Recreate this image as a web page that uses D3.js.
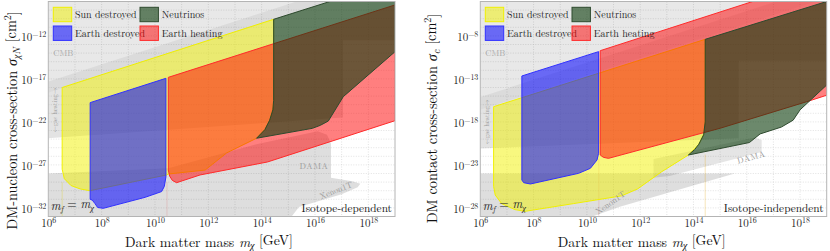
<!DOCTYPE html>
<html><head><meta charset="utf-8">
<script src="https://cdn.jsdelivr.net/npm/d3@7/dist/d3.min.js"></script>
<style>body{margin:0;background:#fff}svg{display:block}</style>
</head><body><svg id="c" width="830" height="251"></svg>
<script>
// ---------- data (log10 of mass in GeV, log10 of cross-section in cm^2) ----------
const massTicks = [6, 8, 10, 12, 14, 16, 18];
const sigmaTicksLeft = [-32, -27, -22, -17, -12];
const sigmaTicksRight = [-28, -23, -18, -13, -8];
const legendLabels = ["Sun destroyed", "Earth destroyed", "Neutrinos", "Earth heating"];

// Isotope-dependent panel
const sunLeft = [[6.52,-18.0],[14.45,-10.07],[14.45,-19.5],[14.42,-20.6],[14.3,-21.8],[14.12,-22.9],[13.81,-23.9],[12.69,-25.6],[11.88,-27.6],[10.5,-28.06],[10.44,-28.17],[7.56,-30.0],[7.2,-29.8],[6.85,-29.4],[6.6,-28.6],[6.52,-27.5]];
const earthLeft = [[7.57,-19.76],[10.41,-16.93],[10.41,-28.4],[10.35,-29.5],[10.25,-30.1],[9.63,-30.77],[8.06,-32.05],[7.85,-31.95],[7.75,-31.5],[7.65,-31.1],[7.57,-31.0]];
const heatLeft = [[10.5,-16.82],[19,-8.4],[19,-21.86],[14.22,-26.66],[11.69,-28.17],[10.81,-29.07],[10.65,-28.8],[10.55,-28.3],[10.5,-27.6]];
const neutrinoLeft = [[14.45,-10.07],[19,-5.6],[19,-13.84],[17.06,-19.07],[16.5,-21.9],[16.2,-22.4],[15.9,-22.75],[13.81,-23.9],[14.12,-22.9],[14.3,-21.8],[14.42,-20.6],[14.45,-19.5]];
const cmbLeft = [[6,-8],[6,-17.3],[15.3,-8]];
const bandLeft = [[6,-17.3],[6,-18.6],[19.5,-5.1],[19.5,-3.8]];
const gasLeft = [[6,-18.6],[19,-5.6],[19,-12.5],[17.05,-12.5],[17.05,-21.5],[6,-23.9]];
const xenonLeft = [[6,-28.0],[10.5,-27.4],[13.8,-24.6],[16.1,-23.1],[16.45,-23.5],[16.6,-24.5],[16.6,-28.5],[17.4,-28.9],[17.7,-29.2],[17.6,-29.6],[17.0,-30.4],[15.4,-31.9],[15.0,-33.5],[6,-33.5]];

// Isotope-independent panel
const sunRight = [[6.5,-16.23],[14.44,-8.4],[14.44,-18.0],[14.38,-19.5],[14.2,-20.6],[13.81,-21.85],[12.81,-23.79],[11.9,-25.8],[11.3,-26.6],[9.5,-27.5],[7.68,-28.4],[7.3,-28.2],[6.8,-27.5],[6.56,-26.5],[6.5,-25.5]];
const earthRight = [[7.56,-12.66],[10.44,-9.83],[10.44,-21.65],[10.38,-22.43],[10.13,-23.4],[9.69,-23.98],[7.88,-25.22],[7.63,-25.07],[7.56,-24.76]];
const heatRight = [[10.5,-9.72],[19,-1.22],[19,-14.9],[18.25,-15.65],[15.0,-18.74],[10.81,-22.24],[10.62,-22.12],[10.5,-21.85]];
const neutrinoRight = [[14.44,-8.4],[19,-4.0],[19,-13.71],[18.0,-16.6],[17.74,-17.8],[17.3,-18.6],[16.5,-19.4],[16.1,-20.4],[13.81,-21.85],[14.05,-21.2],[14.2,-20.6],[14.38,-19.5],[14.44,-18.0]];
const cmbRight = [[6,-4],[6,-15.1],[17.1,-4]];
const bandRight = [[6,-15.1],[6,-16.6],[19.5,-3.1],[19.5,-1.6]];
const gasRight = [[6,-16.6],[19,-3.6],[19,-10.9],[15.7,-10.9],[15.7,-19.9],[6,-21.1]];
const xenonRight = [[6,-24.0],[15.55,-24.0],[11.24,-27.86],[9.75,-29.5],[6,-29.5]];
const damaRight = [[12.5,-22.3],[16.3,-19.8],[16.56,-20.1],[16.56,-21.5],[13.1,-24.3],[12.5,-24.5]];

// ---------- drawing ----------
const svg = d3.select("#c");
const serif = "'Latin Modern Roman','CMU Serif','Liberation Serif','DejaVu Serif',serif";
const regionStyle = {
  sun: {fill:"#f2f200", op:0.5, stroke:"#f0f000"},
  earth: {fill:"#0000ff", op:0.55, stroke:"#3030ff"},
  heat: {fill:"#ff0000", op:0.5, stroke:"#ff2a2a"},
  neutrino: {fill:"#0a3a0a", op:0.6, stroke:"#2e4a2e"}
};

function sup(sel, base, s){
  sel.append("tspan").text(base);
  sel.append("tspan").attr("font-size","0.72em").attr("dy","-0.5em").text(s);
}

function panel(p){
  const x = d3.scaleLinear().domain([6,19]).range([p.left, p.right]);
  const y = d3.scaleLinear().domain(p.yDomain).range([216.5, 1.5]);
  const g = svg.append("g");
  const cid = "clip" + p.id;
  g.append("clipPath").attr("id", cid).append("rect")
    .attr("x", p.left).attr("y", 1.5).attr("width", p.right - p.left).attr("height", 215);
  const plot = g.append("g").attr("clip-path", `url(#${cid})`);
  const line = d3.line().x(d => x(d[0])).y(d => y(d[1])).curve(d3.curveLinearClosed);

  // grid every decade
  plot.selectAll(".gx").data(d3.range(7,19)).join("line")
    .attr("x1", d => x(d)).attr("x2", d => x(d)).attr("y1", 1.5).attr("y2", 216.5)
    .attr("stroke", "#cfcfcf").attr("stroke-width", 0.6).attr("stroke-dasharray", "1,1.5");
  plot.selectAll(".gy").data(d3.range(p.yDomain[0]+1, p.yDomain[1])).join("line")
    .attr("y1", d => y(d)).attr("y2", d => y(d)).attr("x1", p.left).attr("x2", p.right)
    .attr("stroke", "#cfcfcf").attr("stroke-width", 0.6).attr("stroke-dasharray", "1,1.5");

  // grey constraint regions
  p.grays.forEach(gr => plot.append("path").attr("d", line(gr[0]))
    .attr("fill", "#000").attr("fill-opacity", gr[1]));

  // faint guide lines
  p.guides.forEach(gd => plot.append("line")
    .attr("x1", x(gd[0])).attr("x2", x(gd[0])).attr("y1", y(gd[1])).attr("y2", 216.5)
    .attr("stroke", gd[2]).attr("stroke-opacity", 0.35).attr("stroke-width", 0.8));

  // coloured regions
  p.regions.forEach(r => {
    const s = regionStyle[r[1]];
    plot.append("path").attr("d", line(r[0]))
      .attr("fill", s.fill).attr("fill-opacity", s.op)
      .attr("stroke", s.stroke).attr("stroke-width", 1).attr("stroke-linejoin", "round");
  });

  // in-plot grey labels
  plot.append("text").attr("x", p.left + 5).attr("y", 56).attr("font-family", serif)
    .attr("font-size", 8.5).attr("fill", "#a8a8a8").text("CMB");
  plot.append("text").attr("transform", `translate(${p.gasX},${p.gasY}) rotate(-90)`)
    .attr("text-anchor", "middle").attr("font-family", serif).attr("font-size", 6.5)
    .attr("fill", "#9a9a9a").text("←gas heating→");
  plot.append("text").attr("transform", `translate(${p.dama[0]},${p.dama[1]}) rotate(${p.dama[2]})`)
    .attr("text-anchor", "middle").attr("font-family", serif).attr("font-size", 8.5)
    .attr("fill", "#9a9a9a").attr("letter-spacing", 0.5).text("DAMA");
  plot.append("text").attr("transform", `translate(${p.xenon[0]},${p.xenon[1]}) rotate(${p.xenon[2]})`)
    .attr("text-anchor", "middle").attr("font-family", serif).attr("font-size", 8.5)
    .attr("fill", "#9a9a9a").text("Xenon1T");

  // frame
  g.append("rect").attr("x", p.left).attr("y", 1.5).attr("width", p.right - p.left).attr("height", 215)
    .attr("fill", "none").attr("stroke", "#b4b4b4").attr("stroke-width", 1);

  // axes via d3
  const xa = g.append("g").attr("transform", "translate(0,216.5)")
    .call(d3.axisBottom(x).tickValues(massTicks).tickSize(0).tickPadding(0).tickFormat(""));
  xa.select(".domain").remove();
  xa.selectAll(".tick text").each(function(d){
    const t = d3.select(this).attr("y", 10.5).attr("dy", 0).attr("font-family", serif)
      .attr("font-size", 11).attr("fill", "#222");
    sup(t, "10", d);
  });
  const ya = g.append("g").attr("transform", `translate(${p.left},0)`)
    .call(d3.axisLeft(y).tickValues(p.yTicks).tickSize(0).tickPadding(0).tickFormat(""));
  ya.select(".domain").remove();
  ya.selectAll(".tick text").each(function(d){
    const t = d3.select(this).attr("x", -2).attr("dy", "0.4em").attr("font-family", serif)
      .attr("font-size", 11).attr("fill", "#222").attr("text-anchor", "end");
    sup(t, "10", "\u2212" + Math.abs(d));
  });

  // axis titles
  const xt = g.append("text").attr("x", (p.left + p.right) / 2 + p.xTitleShift).attr("y", 246.5)
    .attr("text-anchor", "middle").attr("font-family", serif).attr("font-size", 13.8).attr("fill", "#111");
  xt.append("tspan").text("Dark matter mass ");
  xt.append("tspan").attr("font-style", "italic").text("m");
  xt.append("tspan").attr("font-style", "italic").attr("font-size", "0.7em").attr("dy", "0.3em").text("χ");
  xt.append("tspan").attr("dy", "-0.3em").text(" [GeV]");

  const yt = g.append("text").attr("transform", `translate(${p.yTitleX},${p.yTitleY}) rotate(-90)`)
    .attr("text-anchor", "middle").attr("font-family", serif).attr("font-size", 14.3).attr("fill", "#111");
  yt.append("tspan").text(p.yTitle);
  yt.append("tspan").attr("font-style", "italic").text("σ");
  yt.append("tspan").attr("font-style", "italic").attr("font-size", "0.7em").attr("dy", "0.3em").text(p.ySub);
  yt.append("tspan").attr("dy", "-0.3em").text(" [cm");
  yt.append("tspan").attr("font-size", "0.7em").attr("dy", "-0.45em").text("2");
  yt.append("tspan").attr("dy", "0.45em").text("]");

  // bottom labels
  const mf = g.append("text").attr("x", p.left + 2.5).attr("y", 209.5).attr("font-family", serif)
    .attr("font-size", 12).attr("fill", "#222");
  mf.append("tspan").attr("font-style", "italic").text("m");
  mf.append("tspan").attr("font-style", "italic").attr("font-size", "0.7em").attr("dy", "0.3em").text("f");
  mf.append("tspan").attr("dy", "-0.3em").text(" = ");
  mf.append("tspan").attr("font-style", "italic").text("m");
  mf.append("tspan").attr("font-style", "italic").attr("font-size", "0.7em").attr("dy", "0.3em").text("χ");
  g.append("text").attr("x", p.right - 3).attr("y", 211.5).attr("text-anchor", "end")
    .attr("font-family", serif).attr("font-size", 11.3).attr("fill", "#111").text(p.iso);

  // legend
  const keys = ["sun", "earth", "neutrino", "heat"];
  const lx = [0, 0, 1, 1], ly = [0, 1, 0, 1];
  legendLabels.forEach((lab, i) => {
    const s = regionStyle[keys[i]];
    const bx = p.left + 5 + lx[i] * 86.7, by = 7.3 + ly[i] * 18.7;
    g.append("rect").attr("x", bx).attr("y", by).attr("width", 18.4).attr("height", 14.4)
      .attr("fill", s.fill).attr("fill-opacity", s.op).attr("stroke", s.stroke).attr("stroke-width", 1);
    g.append("text").attr("x", bx + 21.7).attr("y", by + 10.8).attr("font-family", serif)
      .attr("font-size", 10).attr("fill", "#222").text(lab);
  });
}

panel({
  id: "L", left: 48.3, right: 395, yDomain: [-33, -8], yTicks: sigmaTicksLeft,
  grays: [[cmbLeft, 0.09], [bandLeft, 0.14], [gasLeft, 0.11], [xenonLeft, 0.13]],
  guides: [[6.52, -29, "#e0d000"], [10.45, -29, "#e08080"]],
  regions: [[sunLeft, "sun"], [earthLeft, "earth"], [heatLeft, "heat"], [neutrinoLeft, "neutrino"]],
  gasX: 57, gasY: 110, dama: [314, 169, 0], xenon: [337, 193, -22],
  xTitleShift: -12.7, yTitle: "DM-nucleon cross-section ", ySub: "χN", yTitleX: 17, yTitleY: 120.5,
  iso: "Isotope-dependent"
});
panel({
  id: "R", left: 480.3, right: 826.7, yDomain: [-29, -4], yTicks: sigmaTicksRight,
  grays: [[cmbRight, 0.09], [bandRight, 0.14], [gasRight, 0.11], [xenonRight, 0.13], [damaRight, 0.1]],
  guides: [[10.45, -22.3, "#e08080"], [14.44, -21.8, "#e0a000"]],
  regions: [[sunRight, "sun"], [earthRight, "earth"], [heatRight, "heat"], [neutrinoRight, "neutrino"]],
  gasX: 489, gasY: 122, dama: [752, 160, -15], xenon: [612, 205, -35],
  xTitleShift: -11.8, yTitle: "DM contact cross-section ", ySub: "c", yTitleX: 437, yTitleY: 118.5,
  iso: "Isotope-independent"
});
</script>
</body></html>
